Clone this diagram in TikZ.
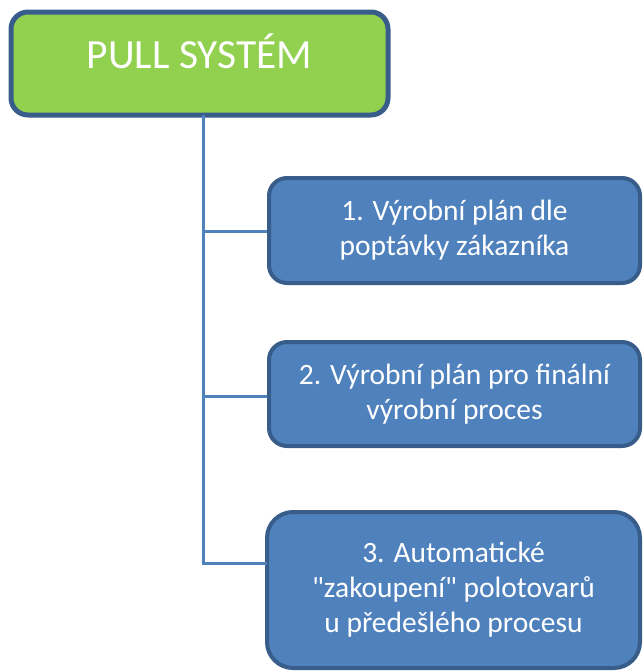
\documentclass[tikz,border=0pt]{standalone}
\usepackage{fontspec}
\setmainfont{Carlito}[Ligatures=TeXOff]
\definecolor{leafgreen}{HTML}{92D050}
\definecolor{stepblue}{HTML}{4F81BD}
\definecolor{edgeblue}{HTML}{385D8A}
\begin{document}
\begin{tikzpicture}[x=1pt,y=-1pt,
  titlebox/.style={draw=edgeblue, line width=5pt, fill=leafgreen, rounded corners=17pt,
    minimum width=377pt, minimum height=103pt, inner sep=0pt},
  titletext/.style={text=white, font=\fontsize{41.5}{48}\selectfont, inner sep=0pt},
  stepbox/.style={draw=edgeblue, line width=4pt, fill=stepblue, text=white,
    align=center, inner sep=0pt, font=\fontsize{29.5}{35}\selectfont},
  link/.style={draw=stepblue, line width=3pt}]
  \useasboundingbox (0,0) rectangle (643,672);

  % root of the hierarchy
  \node[titlebox] (root) at (199.5,63.5) {};
  \node[titletext, anchor=base] (rootlabel) at (199.5,68) {PULL SYSTÉM};

  % the three steps
  \node[stepbox, rounded corners=18pt, minimum width=371pt, minimum height=105pt]
    (s1) at (454.5,230.5) {1. Výrobní plán dle\\poptávky zákazníka};
  \node[stepbox, rounded corners=18pt, minimum width=371pt, minimum height=104pt]
    (s2) at (454.5,394) {2. Výrobní plán pro finální\\výrobní proces};
  \node[stepbox, rounded corners=26pt, minimum width=373pt, minimum height=156pt]
    (s3) at (453.5,590) {3. Automatické\\"zakoupení" polotovarů\\u předešlého procesu};

  % connector anchors on the trunk
  \coordinate (trunk) at (203,115);
  \coordinate (j1) at (203,231);
  \coordinate (j2) at (203,396);
  \coordinate (j3) at (203,563);
  \coordinate (e3) at (267,563);

  \draw[link] (trunk) -- (j3) -- (e3);
  \draw[link] (j1) -- (s1.west |- j1);
  \draw[link] (j2) -- (s2.west |- j2);
\end{tikzpicture}
\end{document}
